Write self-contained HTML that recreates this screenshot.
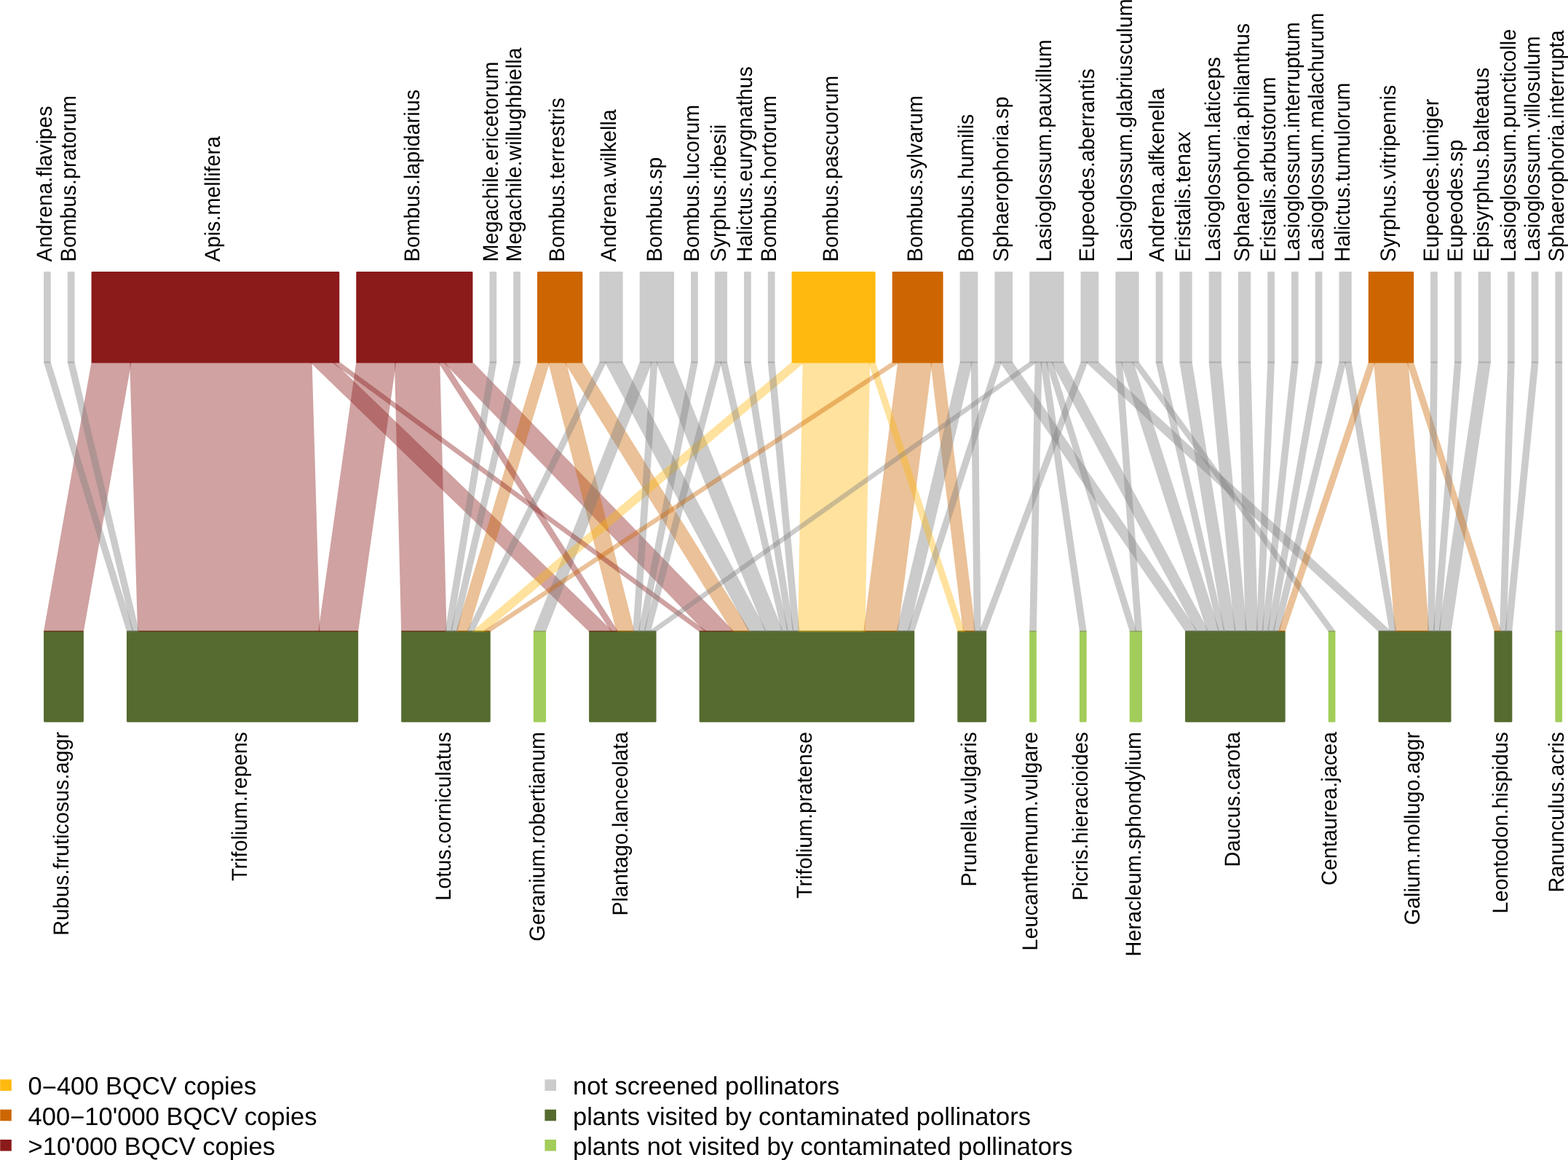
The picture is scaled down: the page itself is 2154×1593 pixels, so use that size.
<!DOCTYPE html>
<html lang="en"><head><meta charset="utf-8"><title>Plant–pollinator network</title>
<style>html,body{margin:0;padding:0;background:#fff}body{width:2154px;height:1593px;overflow:hidden}svg{display:block}text{font-family:"Liberation Sans",sans-serif;fill:#000;text-rendering:geometricPrecision}.l{font-size:28.75px}.g{font-size:34.5px}</style></head><body>
<svg width="2154" height="1593" viewBox="0 0 2154 1593" stroke-linejoin="round">
<rect x="0" y="0" width="2154" height="1593" fill="#fff"/>
<g stroke-width="2.2">
<rect x="61.16" y="374.2" width="7.52" height="123.3" fill="#CCCCCC" stroke="#CCCCCC"/>
<rect x="93.91" y="374.2" width="7.52" height="123.3" fill="#CCCCCC" stroke="#CCCCCC"/>
<rect x="126.66" y="374.2" width="338.49" height="123.3" fill="#8B1A1A" stroke="#8B1A1A"/>
<rect x="490.38" y="374.2" width="157.96" height="123.3" fill="#8B1A1A" stroke="#8B1A1A"/>
<rect x="673.58" y="374.2" width="7.52" height="123.3" fill="#CCCCCC" stroke="#CCCCCC"/>
<rect x="706.33" y="374.2" width="7.52" height="123.3" fill="#CCCCCC" stroke="#CCCCCC"/>
<rect x="739.08" y="374.2" width="60.18" height="123.3" fill="#CD6600" stroke="#CD6600"/>
<rect x="824.49" y="374.2" width="30.09" height="123.3" fill="#CCCCCC" stroke="#CCCCCC"/>
<rect x="879.8" y="374.2" width="45.13" height="123.3" fill="#CCCCCC" stroke="#CCCCCC"/>
<rect x="950.17" y="374.2" width="7.52" height="123.3" fill="#CCCCCC" stroke="#CCCCCC"/>
<rect x="982.92" y="374.2" width="15.04" height="123.3" fill="#CCCCCC" stroke="#CCCCCC"/>
<rect x="1023.19" y="374.2" width="7.52" height="123.3" fill="#CCCCCC" stroke="#CCCCCC"/>
<rect x="1055.94" y="374.2" width="7.52" height="123.3" fill="#CCCCCC" stroke="#CCCCCC"/>
<rect x="1088.7" y="374.2" width="112.83" height="123.3" fill="#FFB90F" stroke="#FFB90F"/>
<rect x="1226.76" y="374.2" width="67.7" height="123.3" fill="#CD6600" stroke="#CD6600"/>
<rect x="1319.68" y="374.2" width="22.57" height="123.3" fill="#CCCCCC" stroke="#CCCCCC"/>
<rect x="1367.48" y="374.2" width="22.57" height="123.3" fill="#CCCCCC" stroke="#CCCCCC"/>
<rect x="1415.28" y="374.2" width="45.13" height="123.3" fill="#CCCCCC" stroke="#CCCCCC"/>
<rect x="1485.64" y="374.2" width="22.57" height="123.3" fill="#CCCCCC" stroke="#CCCCCC"/>
<rect x="1533.43" y="374.2" width="30.09" height="123.3" fill="#CCCCCC" stroke="#CCCCCC"/>
<rect x="1588.75" y="374.2" width="7.52" height="123.3" fill="#CCCCCC" stroke="#CCCCCC"/>
<rect x="1621.5" y="374.2" width="15.04" height="123.3" fill="#CCCCCC" stroke="#CCCCCC"/>
<rect x="1661.78" y="374.2" width="15.04" height="123.3" fill="#CCCCCC" stroke="#CCCCCC"/>
<rect x="1702.05" y="374.2" width="15.04" height="123.3" fill="#CCCCCC" stroke="#CCCCCC"/>
<rect x="1742.33" y="374.2" width="7.52" height="123.3" fill="#CCCCCC" stroke="#CCCCCC"/>
<rect x="1775.08" y="374.2" width="7.52" height="123.3" fill="#CCCCCC" stroke="#CCCCCC"/>
<rect x="1807.83" y="374.2" width="7.52" height="123.3" fill="#CCCCCC" stroke="#CCCCCC"/>
<rect x="1840.58" y="374.2" width="15.04" height="123.3" fill="#CCCCCC" stroke="#CCCCCC"/>
<rect x="1880.86" y="374.2" width="60.18" height="123.3" fill="#CD6600" stroke="#CD6600"/>
<rect x="1966.26" y="374.2" width="7.52" height="123.3" fill="#CCCCCC" stroke="#CCCCCC"/>
<rect x="1999.01" y="374.2" width="7.52" height="123.3" fill="#CCCCCC" stroke="#CCCCCC"/>
<rect x="2031.77" y="374.2" width="15.04" height="123.3" fill="#CCCCCC" stroke="#CCCCCC"/>
<rect x="2072.04" y="374.2" width="7.52" height="123.3" fill="#CCCCCC" stroke="#CCCCCC"/>
<rect x="2104.79" y="374.2" width="7.52" height="123.3" fill="#CCCCCC" stroke="#CCCCCC"/>
<rect x="2137.54" y="374.2" width="7.52" height="123.3" fill="#CCCCCC" stroke="#CCCCCC"/>
<rect x="61.16" y="867" width="52.65" height="123.6" fill="#556B2F" stroke="#556B2F"/>
<rect x="175.08" y="867" width="315.92" height="123.6" fill="#556B2F" stroke="#556B2F"/>
<rect x="552.28" y="867" width="120.35" height="123.6" fill="#556B2F" stroke="#556B2F"/>
<rect x="733.9" y="867" width="15.04" height="123.6" fill="#A2CD5A" stroke="#A2CD5A"/>
<rect x="810.21" y="867" width="90.26" height="123.6" fill="#556B2F" stroke="#556B2F"/>
<rect x="961.75" y="867" width="293.36" height="123.6" fill="#556B2F" stroke="#556B2F"/>
<rect x="1316.38" y="867" width="37.61" height="123.6" fill="#556B2F" stroke="#556B2F"/>
<rect x="1415.26" y="867" width="7.52" height="123.6" fill="#A2CD5A" stroke="#A2CD5A"/>
<rect x="1484.05" y="867" width="7.52" height="123.6" fill="#A2CD5A" stroke="#A2CD5A"/>
<rect x="1552.84" y="867" width="15.04" height="123.6" fill="#A2CD5A" stroke="#A2CD5A"/>
<rect x="1629.15" y="867" width="135.4" height="123.6" fill="#556B2F" stroke="#556B2F"/>
<rect x="1825.82" y="867" width="7.52" height="123.6" fill="#A2CD5A" stroke="#A2CD5A"/>
<rect x="1894.61" y="867" width="97.79" height="123.6" fill="#556B2F" stroke="#556B2F"/>
<rect x="2053.67" y="867" width="22.57" height="123.6" fill="#556B2F" stroke="#556B2F"/>
<rect x="2137.5" y="867" width="7.52" height="123.6" fill="#A2CD5A" stroke="#A2CD5A"/>
</g>
<g stroke-width="2.2">
<polygon points="179.32,497.5 427.54,497.5 438.35,867 190.13,867" fill="#8B1A1A" stroke="#8B1A1A" opacity="0.4"/>
<polygon points="1103.74,497.5 1194,497.5 1187.41,867 1097.14,867" fill="#FFB90F" stroke="#FFB90F" opacity="0.4"/>
<polygon points="543.04,497.5 603.21,497.5 612.45,867 552.28,867" fill="#8B1A1A" stroke="#8B1A1A" opacity="0.4"/>
<polygon points="126.66,497.5 179.32,497.5 113.81,867 61.16,867" fill="#8B1A1A" stroke="#8B1A1A" opacity="0.4"/>
<polygon points="490.38,497.5 543.04,497.5 491.01,867 438.35,867" fill="#8B1A1A" stroke="#8B1A1A" opacity="0.4"/>
<polygon points="1234.28,497.5 1279.41,497.5 1232.54,867 1187.41,867" fill="#CD6600" stroke="#CD6600" opacity="0.4"/>
<polygon points="1888.38,497.5 1933.51,497.5 1962.31,867 1917.18,867" fill="#CD6600" stroke="#CD6600" opacity="0.4"/>
<polygon points="610.74,497.5 648.35,497.5 1006.88,867 969.27,867" fill="#8B1A1A" stroke="#8B1A1A" opacity="0.4"/>
<polygon points="427.54,497.5 457.63,497.5 840.3,867 810.21,867" fill="#8B1A1A" stroke="#8B1A1A" opacity="0.4"/>
<polygon points="754.12,497.5 776.69,497.5 870.39,867 847.82,867" fill="#CD6600" stroke="#CD6600" opacity="0.4"/>
<polygon points="776.69,497.5 799.26,497.5 1029.45,867 1006.88,867" fill="#CD6600" stroke="#CD6600" opacity="0.4"/>
<polygon points="832.01,497.5 854.57,497.5 1052.01,867 1029.45,867" fill="#808080" stroke="#808080" opacity="0.4"/>
<polygon points="902.37,497.5 924.94,497.5 1074.58,867 1052.01,867" fill="#808080" stroke="#808080" opacity="0.4"/>
<polygon points="739.08,497.5 754.12,497.5 642.54,867 627.5,867" fill="#CD6600" stroke="#CD6600" opacity="0.4"/>
<polygon points="879.8,497.5 894.85,497.5 748.94,867 733.9,867" fill="#808080" stroke="#808080" opacity="0.4"/>
<polygon points="1088.7,497.5 1103.74,497.5 665.11,867 650.06,867" fill="#FFB90F" stroke="#FFB90F" opacity="0.4"/>
<polygon points="1279.41,497.5 1294.45,497.5 1338.94,867 1323.9,867" fill="#CD6600" stroke="#CD6600" opacity="0.4"/>
<polygon points="1319.68,497.5 1334.73,497.5 1247.58,867 1232.54,867" fill="#808080" stroke="#808080" opacity="0.4"/>
<polygon points="1375,497.5 1390.05,497.5 1644.2,867 1629.15,867" fill="#808080" stroke="#808080" opacity="0.4"/>
<polygon points="1445.36,497.5 1460.41,497.5 1659.24,867 1644.2,867" fill="#808080" stroke="#808080" opacity="0.4"/>
<polygon points="1493.16,497.5 1508.2,497.5 1909.66,867 1894.61,867" fill="#808080" stroke="#808080" opacity="0.4"/>
<polygon points="1540.96,497.5 1556,497.5 1674.29,867 1659.24,867" fill="#808080" stroke="#808080" opacity="0.4"/>
<polygon points="1621.5,497.5 1636.55,497.5 1696.85,867 1681.81,867" fill="#808080" stroke="#808080" opacity="0.4"/>
<polygon points="1661.78,497.5 1676.82,497.5 1711.9,867 1696.85,867" fill="#808080" stroke="#808080" opacity="0.4"/>
<polygon points="1702.05,497.5 1717.1,497.5 1726.94,867 1711.9,867" fill="#808080" stroke="#808080" opacity="0.4"/>
<polygon points="2031.77,497.5 2046.81,497.5 1992.4,867 1977.35,867" fill="#808080" stroke="#808080" opacity="0.4"/>
<polygon points="61.16,497.5 68.68,497.5 182.61,867 175.08,867" fill="#808080" stroke="#808080" opacity="0.4"/>
<polygon points="93.91,497.5 101.43,497.5 190.13,867 182.61,867" fill="#808080" stroke="#808080" opacity="0.4"/>
<polygon points="457.63,497.5 465.15,497.5 969.27,867 961.75,867" fill="#8B1A1A" stroke="#8B1A1A" opacity="0.4"/>
<polygon points="603.21,497.5 610.74,497.5 847.82,867 840.3,867" fill="#8B1A1A" stroke="#8B1A1A" opacity="0.4"/>
<polygon points="673.58,497.5 681.1,497.5 619.98,867 612.45,867" fill="#808080" stroke="#808080" opacity="0.4"/>
<polygon points="706.33,497.5 713.85,497.5 627.5,867 619.98,867" fill="#808080" stroke="#808080" opacity="0.4"/>
<polygon points="824.49,497.5 832.01,497.5 650.06,867 642.54,867" fill="#808080" stroke="#808080" opacity="0.4"/>
<polygon points="894.85,497.5 902.37,497.5 877.91,867 870.39,867" fill="#808080" stroke="#808080" opacity="0.4"/>
<polygon points="950.17,497.5 957.69,497.5 885.43,867 877.91,867" fill="#808080" stroke="#808080" opacity="0.4"/>
<polygon points="982.92,497.5 990.44,497.5 892.96,867 885.43,867" fill="#808080" stroke="#808080" opacity="0.4"/>
<polygon points="990.44,497.5 997.96,497.5 1082.1,867 1074.58,867" fill="#808080" stroke="#808080" opacity="0.4"/>
<polygon points="1023.19,497.5 1030.71,497.5 1089.62,867 1082.1,867" fill="#808080" stroke="#808080" opacity="0.4"/>
<polygon points="1055.94,497.5 1063.47,497.5 1097.14,867 1089.62,867" fill="#808080" stroke="#808080" opacity="0.4"/>
<polygon points="1194,497.5 1201.53,497.5 1323.9,867 1316.38,867" fill="#FFB90F" stroke="#FFB90F" opacity="0.4"/>
<polygon points="1226.76,497.5 1234.28,497.5 672.63,867 665.11,867" fill="#CD6600" stroke="#CD6600" opacity="0.4"/>
<polygon points="1334.73,497.5 1342.25,497.5 1346.46,867 1338.94,867" fill="#808080" stroke="#808080" opacity="0.4"/>
<polygon points="1367.48,497.5 1375,497.5 1255.11,867 1247.58,867" fill="#808080" stroke="#808080" opacity="0.4"/>
<polygon points="1415.28,497.5 1422.8,497.5 900.48,867 892.96,867" fill="#808080" stroke="#808080" opacity="0.4"/>
<polygon points="1422.8,497.5 1430.32,497.5 1422.78,867 1415.26,867" fill="#808080" stroke="#808080" opacity="0.4"/>
<polygon points="1430.32,497.5 1437.84,497.5 1491.57,867 1484.05,867" fill="#808080" stroke="#808080" opacity="0.4"/>
<polygon points="1437.84,497.5 1445.36,497.5 1560.36,867 1552.84,867" fill="#808080" stroke="#808080" opacity="0.4"/>
<polygon points="1485.64,497.5 1493.16,497.5 1353.99,867 1346.46,867" fill="#808080" stroke="#808080" opacity="0.4"/>
<polygon points="1533.43,497.5 1540.96,497.5 1567.88,867 1560.36,867" fill="#808080" stroke="#808080" opacity="0.4"/>
<polygon points="1556,497.5 1563.52,497.5 1833.34,867 1825.82,867" fill="#808080" stroke="#808080" opacity="0.4"/>
<polygon points="1588.75,497.5 1596.27,497.5 1681.81,867 1674.29,867" fill="#808080" stroke="#808080" opacity="0.4"/>
<polygon points="1742.33,497.5 1749.85,497.5 1734.46,867 1726.94,867" fill="#808080" stroke="#808080" opacity="0.4"/>
<polygon points="1775.08,497.5 1782.6,497.5 1741.98,867 1734.46,867" fill="#808080" stroke="#808080" opacity="0.4"/>
<polygon points="1807.83,497.5 1815.35,497.5 1749.51,867 1741.98,867" fill="#808080" stroke="#808080" opacity="0.4"/>
<polygon points="1840.58,497.5 1848.1,497.5 1757.03,867 1749.51,867" fill="#808080" stroke="#808080" opacity="0.4"/>
<polygon points="1848.1,497.5 1855.63,497.5 1917.18,867 1909.66,867" fill="#808080" stroke="#808080" opacity="0.4"/>
<polygon points="1880.86,497.5 1888.38,497.5 1764.55,867 1757.03,867" fill="#CD6600" stroke="#CD6600" opacity="0.4"/>
<polygon points="1933.51,497.5 1941.03,497.5 2061.19,867 2053.67,867" fill="#CD6600" stroke="#CD6600" opacity="0.4"/>
<polygon points="1966.26,497.5 1973.78,497.5 1969.83,867 1962.31,867" fill="#808080" stroke="#808080" opacity="0.4"/>
<polygon points="1999.01,497.5 2006.54,497.5 1977.35,867 1969.83,867" fill="#808080" stroke="#808080" opacity="0.4"/>
<polygon points="2072.04,497.5 2079.56,497.5 2068.71,867 2061.19,867" fill="#808080" stroke="#808080" opacity="0.4"/>
<polygon points="2104.79,497.5 2112.31,497.5 2076.23,867 2068.71,867" fill="#808080" stroke="#808080" opacity="0.4"/>
<polygon points="2137.54,497.5 2145.07,497.5 2145.03,867 2137.5,867" fill="#808080" stroke="#808080" opacity="0.4"/>
</g>
<g class="l">
<text transform="translate(71.12,359.5) rotate(-90) scale(1,1.03)">Andrena.flavipes</text>
<text transform="translate(103.87,359.5) rotate(-90) scale(1,1.03)">Bombus.pratorum</text>
<text transform="translate(302.11,359.5) rotate(-90) scale(1,1.03)">Apis.mellifera</text>
<text transform="translate(575.57,359.5) rotate(-90) scale(1,1.03)">Bombus.lapidarius</text>
<text transform="translate(683.54,359.5) rotate(-90) scale(1,1.03)">Megachile.ericetorum</text>
<text transform="translate(716.29,359.5) rotate(-90) scale(1,1.03)">Megachile.willughbiella</text>
<text transform="translate(775.37,359.5) rotate(-90) scale(1,1.03)">Bombus.terrestris</text>
<text transform="translate(845.73,359.5) rotate(-90) scale(1,1.03)">Andrena.wilkella</text>
<text transform="translate(908.57,359.5) rotate(-90) scale(1,1.03)">Bombus.sp</text>
<text transform="translate(960.13,359.5) rotate(-90) scale(1,1.03)">Bombus.lucorum</text>
<text transform="translate(996.64,359.5) rotate(-90) scale(1,1.03)">Syrphus.ribesii</text>
<text transform="translate(1033.15,359.5) rotate(-90) scale(1,1.03)">Halictus.eurygnathus</text>
<text transform="translate(1065.9,359.5) rotate(-90) scale(1,1.03)">Bombus.hortorum</text>
<text transform="translate(1151.31,359.5) rotate(-90) scale(1,1.03)">Bombus.pascuorum</text>
<text transform="translate(1266.8,359.5) rotate(-90) scale(1,1.03)">Bombus.sylvarum</text>
<text transform="translate(1337.17,359.5) rotate(-90) scale(1,1.03)">Bombus.humilis</text>
<text transform="translate(1384.96,359.5) rotate(-90) scale(1,1.03)">Sphaerophoria.sp</text>
<text transform="translate(1444.04,359.5) rotate(-90) scale(1,1.03)">Lasioglossum.pauxillum</text>
<text transform="translate(1503.12,359.5) rotate(-90) scale(1,1.03)">Eupeodes.aberrantis</text>
<text transform="translate(1554.68,359.5) rotate(-90) scale(1,1.03)">Lasioglossum.glabriusculum</text>
<text transform="translate(1598.71,359.5) rotate(-90) scale(1,1.03)">Andrena.alfkenella</text>
<text transform="translate(1635.23,359.5) rotate(-90) scale(1,1.03)">Eristalis.tenax</text>
<text transform="translate(1675.5,359.5) rotate(-90) scale(1,1.03)">Lasioglossum.laticeps</text>
<text transform="translate(1715.77,359.5) rotate(-90) scale(1,1.03)">Sphaerophoria.philanthus</text>
<text transform="translate(1752.29,359.5) rotate(-90) scale(1,1.03)">Eristalis.arbustorum</text>
<text transform="translate(1785.04,359.5) rotate(-90) scale(1,1.03)">Lasioglossum.interruptum</text>
<text transform="translate(1817.79,359.5) rotate(-90) scale(1,1.03)">Lasioglossum.malachurum</text>
<text transform="translate(1854.3,359.5) rotate(-90) scale(1,1.03)">Halictus.tumulorum</text>
<text transform="translate(1917.14,359.5) rotate(-90) scale(1,1.03)">Syrphus.vitripennis</text>
<text transform="translate(1976.22,359.5) rotate(-90) scale(1,1.03)">Eupeodes.luniger</text>
<text transform="translate(2008.97,359.5) rotate(-90) scale(1,1.03)">Eupeodes.sp</text>
<text transform="translate(2045.49,359.5) rotate(-90) scale(1,1.03)">Episyrphus.balteatus</text>
<text transform="translate(2082,359.5) rotate(-90) scale(1,1.03)">Lasioglossum.puncticolle</text>
<text transform="translate(2114.75,359.5) rotate(-90) scale(1,1.03)">Lasioglossum.villosulum</text>
<text transform="translate(2147.5,359.5) rotate(-90) scale(1,1.03)">Sphaerophoria.interrupta</text>
</g><g class="l" text-anchor="end">
<text transform="translate(93.79,1005) rotate(-90) scale(1,1.03)">Rubus.fruticosus.aggr</text>
<text transform="translate(339.35,1005) rotate(-90) scale(1,1.03)">Trifolium.repens</text>
<text transform="translate(618.75,1005) rotate(-90) scale(1,1.03)">Lotus.corniculatus</text>
<text transform="translate(747.72,1005) rotate(-90) scale(1,1.03)">Geranium.robertianum</text>
<text transform="translate(861.65,1005) rotate(-90) scale(1,1.03)">Plantago.lanceolata</text>
<text transform="translate(1114.73,1005) rotate(-90) scale(1,1.03)">Trifolium.pratense</text>
<text transform="translate(1341.48,1005) rotate(-90) scale(1,1.03)">Prunella.vulgaris</text>
<text transform="translate(1425.32,1005) rotate(-90) scale(1,1.03)">Leucanthemum.vulgare</text>
<text transform="translate(1494.11,1005) rotate(-90) scale(1,1.03)">Picris.hieracioides</text>
<text transform="translate(1566.66,1005) rotate(-90) scale(1,1.03)">Heracleum.sphondylium</text>
<text transform="translate(1703.15,1005) rotate(-90) scale(1,1.03)">Daucus.carota</text>
<text transform="translate(1835.88,1005) rotate(-90) scale(1,1.03)">Centaurea.jacea</text>
<text transform="translate(1949.8,1005) rotate(-90) scale(1,1.03)">Galium.mollugo.aggr</text>
<text transform="translate(2071.25,1005) rotate(-90) scale(1,1.03)">Leontodon.hispidus</text>
<text transform="translate(2147.57,1005) rotate(-90) scale(1,1.03)">Ranunculus.acris</text>
</g>
<g class="g">
<rect x="0.2" y="1482.4" width="15.6" height="15.6" fill="#FFB90F"/>
<text x="38.6" y="1503.4">0<tspan dy="1.5">−</tspan><tspan dy="-1.5">400 BQCV copies</tspan></text>
<rect x="0.2" y="1523.7" width="15.6" height="15.6" fill="#CD6600"/>
<text x="38.6" y="1544.7">400<tspan dy="1.5">−</tspan><tspan dy="-1.5">10'000 BQCV copies</tspan></text>
<rect x="0.2" y="1565" width="15.6" height="15.6" fill="#8B1A1A"/>
<text x="38.6" y="1586">&gt;10'000 BQCV copies</text>
<rect x="748.4" y="1482.4" width="15.6" height="15.6" fill="#CCCCCC"/>
<text x="787" y="1503.4">not screened pollinators</text>
<rect x="748.4" y="1523.7" width="15.6" height="15.6" fill="#556B2F"/>
<text x="787" y="1544.7">plants visited by contaminated pollinators</text>
<rect x="748.4" y="1565" width="15.6" height="15.6" fill="#A2CD5A"/>
<text x="787" y="1586">plants not visited by contaminated pollinators</text>
</g>
</svg></body></html>
